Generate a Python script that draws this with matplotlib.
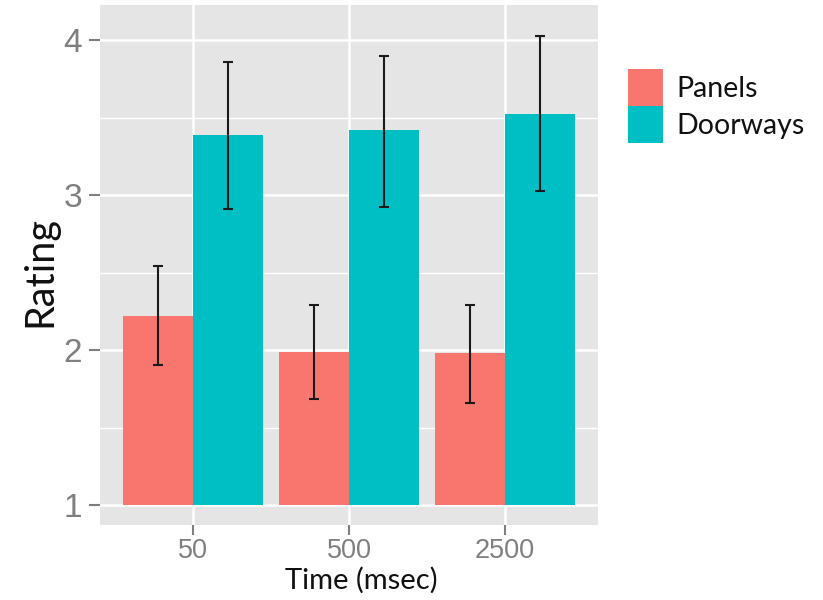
import matplotlib
matplotlib.use("Agg")
import matplotlib.pyplot as plt
import matplotlib.patches as mpatches
from matplotlib.ticker import MultipleLocator
import numpy as np

# ---- data ----
categories = ["50", "500", "2500"]
series_names = ["Panels", "Doorways"]
panels_mean = [2.22, 1.99, 1.98]
panels_lo = [1.905, 1.686, 1.66]
panels_hi = [2.544, 2.288, 2.288]
doorways_mean = [3.39, 3.42, 3.52]
doorways_lo = [2.908, 2.923, 3.024]
doorways_hi = [3.856, 3.897, 4.028]
y_ticks = [1, 2, 3, 4]
colors = ["#F8766D", "#00BFC4"]

W, H = 823, 600
fig = plt.figure(figsize=(W / 100, H / 100), dpi=100)
fig.patch.set_facecolor("white")
ax = fig.add_axes([100 / W, 75 / H, 498 / W, 520 / H])
ax.set_facecolor("#E5E5E5")

x = np.arange(1, len(categories) + 1)
bw = 0.45
baseline = 1.0
series = [
    (panels_mean, panels_lo, panels_hi),
    (doorways_mean, doorways_lo, doorways_hi),
]
for i, (m, lo, hi) in enumerate(series):
    xs = x + (i - 0.5) * bw
    m = np.array(m)
    ax.bar(xs, m - baseline, bottom=baseline, width=bw, color=colors[i],
           edgecolor="none", zorder=3, label=series_names[i])
    yerr = np.vstack([m - np.array(lo), np.array(hi) - m])
    ax.errorbar(xs, m, yerr=yerr, fmt="none", ecolor="#1a1a1a",
                elinewidth=1.5, capsize=3.8, capthick=1.5, zorder=4)

ax.set_xlim(0.4, 3.6)
ax.set_ylim(0.871, 4.226)
ax.set_xticks(x)
ax.set_xticklabels(categories)
ax.set_yticks(y_ticks)
ax.yaxis.set_minor_locator(MultipleLocator(0.5))

ax.grid(which="major", color="white", linewidth=1.8, zorder=1)
ax.grid(which="minor", axis="y", color="white", linewidth=1.0, zorder=1)
ax.set_axisbelow(True)
for s in ax.spines.values():
    s.set_visible(False)

ax.tick_params(axis="y", which="major", length=8, width=1.5, color="#7F7F7F",
               pad=5, labelsize=24, labelcolor="#7F7F7F")
ax.tick_params(axis="x", which="major", length=7, width=1.5, color="#7F7F7F",
               pad=2, labelsize=19.5, labelcolor="#7F7F7F")
ax.tick_params(which="minor", length=0)
for lab in ax.get_xticklabels() + ax.get_yticklabels():
    lab.set_family(["Liberation Sans", "DejaVu Sans"])

ax.set_xlabel("Time (msec)", fontsize=21, family=["Lato", "DejaVu Sans"], color="#111111")
ax.xaxis.set_label_coords(0.524, -0.08)
ax.set_ylabel("Rating", fontsize=28.5, family=["Lato", "DejaVu Sans"], color="#111111", va="center")
ax.yaxis.set_label_coords(-0.12, 0.488)

handles = [mpatches.Patch(facecolor=c, edgecolor="none") for c in colors]
leg = fig.legend(handles, series_names, loc="upper left",
                 bbox_to_anchor=(628 / W, 1 - 69 / H), frameon=False,
                 borderpad=0, borderaxespad=0, labelspacing=0.0,
                 handlelength=1.24, handleheight=1.62, handletextpad=0.45,
                 prop={"family": ["Lato", "DejaVu Sans"], "size": 20.5})
for t in leg.get_texts():
    t.set_color("#111111")

fig.savefig("out.png", dpi=100, facecolor="white")
